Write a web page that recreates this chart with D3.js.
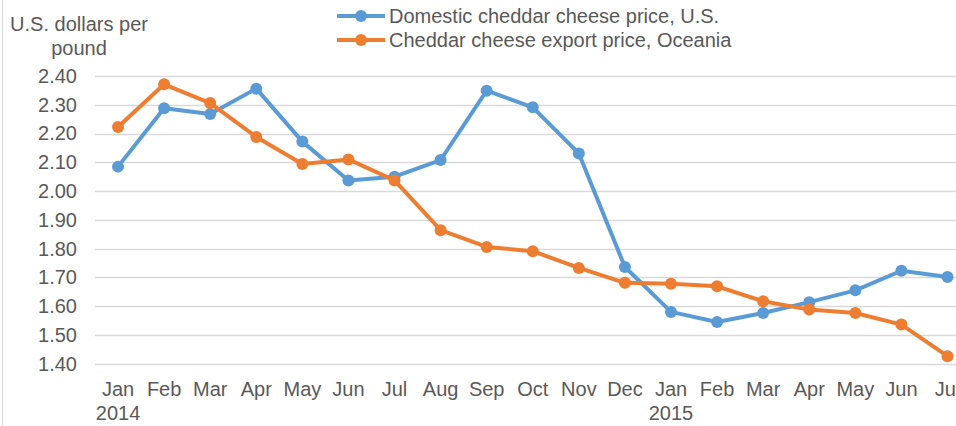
<!DOCTYPE html>
<meta charset="utf-8">
<script src="https://d3js.org/d3.v7.min.js"></script>
<style>
    body { margin: 0; background: #fff; }
    svg text { font-family: "Liberation Sans", Arial, sans-serif; fill: #595959; }
</style>
<div id="my_dataviz"></div>
<script>

    // months on the x axis, year shown under each January
    var months = ["Jan", "Feb", "Mar", "Apr", "May", "Jun", "Jul", "Aug", "Sep", "Oct", "Nov", "Dec",
                  "Jan", "Feb", "Mar", "Apr", "May", "Jun", "Jul"];
    var years = ["2014", "", "", "", "", "", "", "", "", "", "", "", "2015", "", "", "", "", "", ""];

    // prices in U.S. dollars per pound
    var domestic = [2.085, 2.288, 2.268, 2.356, 2.172, 2.037, 2.050, 2.108, 2.349, 2.291, 2.131, 1.736,
                    1.580, 1.545, 1.576, 1.614, 1.655, 1.723, 1.701];
    var oceania = [2.223, 2.371, 2.306, 2.188, 2.094, 2.110, 2.037, 1.864, 1.806, 1.791, 1.733, 1.681,
                   1.678, 1.669, 1.617, 1.588, 1.576, 1.536, 1.426];

    var yTicks = [1.40, 1.50, 1.60, 1.70, 1.80, 1.90, 2.00, 2.10, 2.20, 2.30, 2.40];
    var seriesNames = ["Domestic cheddar cheese price, U.S.", "Cheddar cheese export price, Oceania"];
    var colors = ["#5B9BD5", "#ED7D31"];

    var width = 956, height = 426;
    var fontSize = 20;

    var svg = d3.select("#my_dataviz")
        .append("svg")
        .attr("width", width)
        .attr("height", height);

    // left frame edge
    svg.append("line")
        .attr("x1", 2.5).attr("x2", 2.5)
        .attr("y1", 0).attr("y2", height)
        .style("stroke", "#D9D9D9");

    // x: the plot runs past the right edge of the picture (it is cropped)
    var x = d3.scaleBand()
        .domain(d3.range(months.length))
        .range([95, 95 + 46.08 * months.length]);

    var y = d3.scaleLinear()
        .domain([1.40, 2.40])
        .range([363.7, 76]);

    // gridlines
    svg.append("g")
        .selectAll("line")
        .data(yTicks)
        .enter()
        .append("line")
        .attr("x1", 95)
        .attr("x2", width)
        .attr("y1", function (d) { return Math.round(y(d)) + 0.5; })
        .attr("y2", function (d) { return Math.round(y(d)) + 0.5; })
        .style("stroke", "#D9D9D9")
        .style("stroke-width", 1.3);

    // y axis labels
    var yAxis = svg.append("g")
        .attr("transform", "translate(77,0)")
        .call(d3.axisLeft(y).tickValues(yTicks).tickSize(0).tickPadding(0)
            .tickFormat(d3.format(".2f")));
    yAxis.select(".domain").remove();
    yAxis.selectAll("text")
        .style("font-size", fontSize + "px")
        .attr("fill", "#595959");

    // x axis labels: month + year
    var xAxis = svg.append("g")
        .attr("transform", "translate(0,380)")
        .call(d3.axisBottom(x).tickSize(0).tickPadding(0)
            .tickFormat(function (i) { return months[i]; }));
    xAxis.select(".domain").remove();
    xAxis.selectAll("text")
        .style("font-size", fontSize + "px")
        .attr("fill", "#595959")
        .attr("dy", "0.35em")
        .attr("y", 9);

    svg.append("g")
        .selectAll("text")
        .data(years)
        .enter()
        .append("text")
        .attr("x", function (d, i) { return x(i) + x.bandwidth() / 2; })
        .attr("y", 413)
        .attr("dy", "0.35em")
        .attr("text-anchor", "middle")
        .style("font-size", fontSize + "px")
        .text(function (d) { return d; });

    // axis title
    var title = svg.append("text")
        .attr("x", 79)
        .attr("text-anchor", "middle")
        .style("font-size", fontSize + "px");
    title.append("tspan").attr("x", 79).attr("y", 24).attr("dy", "0.35em").text("U.S. dollars per");
    title.append("tspan").attr("x", 79).attr("y", 48).attr("dy", "0.35em").text("pound");

    // lines + markers
    var line = d3.line()
        .x(function (d, i) { return x(i) + x.bandwidth() / 2; })
        .y(function (d) { return y(d); });

    [domestic, oceania].forEach(function (series, k) {
        svg.append("path")
            .datum(series)
            .attr("d", line)
            .style("fill", "none")
            .style("stroke", colors[k])
            .style("stroke-width", 4)
            .style("stroke-linejoin", "round");

        svg.append("g")
            .selectAll("circle")
            .data(series)
            .enter()
            .append("circle")
            .attr("cx", function (d, i) { return x(i) + x.bandwidth() / 2; })
            .attr("cy", function (d) { return y(d); })
            .attr("r", 6)
            .style("fill", colors[k]);
    });

    // legend
    var legend = svg.append("g")
        .selectAll("g")
        .data(seriesNames)
        .enter()
        .append("g")
        .attr("transform", function (d, i) { return "translate(0," + (16 + i * 24) + ")"; });

    legend.append("line")
        .attr("x1", 337).attr("x2", 385)
        .attr("y1", 0).attr("y2", 0)
        .style("stroke", function (d, i) { return colors[i]; })
        .style("stroke-width", 4);

    legend.append("circle")
        .attr("cx", 361).attr("cy", 0).attr("r", 6)
        .style("fill", function (d, i) { return colors[i]; });

    legend.append("text")
        .attr("x", 389)
        .attr("y", 0)
        .attr("dy", "0.35em")
        .style("font-size", fontSize + "px")
        .text(function (d) { return d; });

</script>
